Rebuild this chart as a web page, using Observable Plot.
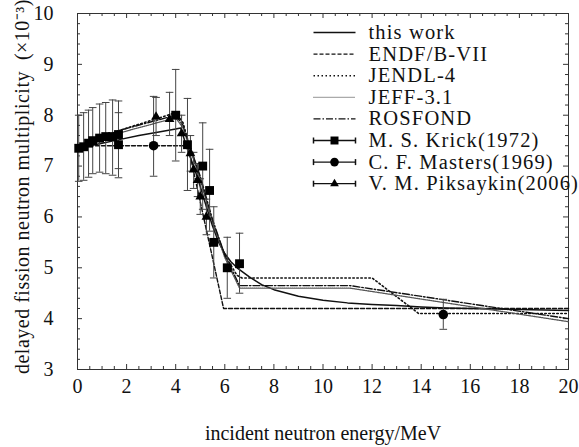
<!DOCTYPE html>
<html><head><meta charset="utf-8">
<script src="https://cdn.jsdelivr.net/npm/d3@7"></script>
<script src="https://cdn.jsdelivr.net/npm/@observablehq/plot@0.6"></script>
<style>body{margin:0;background:#fff}</style>
</head><body><div id="chart"></div>
<script>
// ---- data ----
const workE = [0, 0.5, 1, 1.7, 2.5, 3.2, 4.0, 4.2, 4.5, 4.8, 5.0, 5.25, 5.5, 5.75, 6.0, 6.25, 6.5, 7.0, 7.5, 8, 9, 10, 11, 12, 13, 14, 15, 16, 18, 20];
const workV = [7.35, 7.4, 7.45, 7.52, 7.6, 7.66, 7.73, 7.75, 7.3, 6.9, 6.6, 6.2, 5.82, 5.5, 5.28, 5.12, 5.0, 4.82, 4.67, 4.57, 4.44, 4.36, 4.31, 4.28, 4.26, 4.23, 4.21, 4.2, 4.18, 4.16];
const endfE = [0, 4.5, 5.95, 20];
const endfV = [7.4, 7.4, 4.2, 4.2];
const jendlE = [0, 1.7, 4.0, 4.3, 4.5, 5.0, 5.5, 6.0, 6.5, 6.7, 12.0, 13.9, 20];
const jendlV = [7.35, 7.7, 8.05, 7.85, 7.5, 6.75, 5.9, 5.25, 4.85, 4.8, 4.8, 4.1, 4.1];
const jeffE = [0, 1.7, 4.0, 4.3, 4.5, 5.0, 5.5, 6.0, 6.6, 11.1, 20];
const jeffV = [7.35, 7.65, 7.95, 7.75, 7.45, 6.75, 5.9, 5.2, 4.6, 4.6, 3.94];
const rosE = [0, 1.7, 4.0, 4.3, 4.5, 5.0, 5.5, 6.0, 6.6, 11.1, 20];
const rosV = [7.35, 7.7, 8.0, 7.8, 7.5, 6.8, 5.95, 5.25, 4.65, 4.65, 4.0];

const krickE = [0.05, 0.25, 0.45, 0.62, 0.9, 1.15, 1.43, 1.67, 1.67, 4.0, 4.48, 5.1, 5.38, 5.55, 6.1, 6.6];
const krickV = [7.35, 7.38, 7.45, 7.5, 7.55, 7.58, 7.58, 7.62, 7.42, 8.0, 7.42, 7.0, 6.52, 5.5, 5.0, 5.08];
const krickLo = [6.7, 6.72, 6.78, 6.85, 6.88, 6.85, 6.82, 6.95, 6.77, 7.1, 6.52, 6.15, 5.72, 4.8, 4.4, 4.5];
const krickHi = [8.0, 8.05, 8.1, 8.15, 8.22, 8.25, 8.3, 8.28, 8.05, 8.9, 8.33, 7.85, 7.33, 6.2, 5.6, 5.68];

const mastersE = [3.1, 14.9];
const mastersV = [7.4, 4.08];
const mastersLo = [6.8, 3.79];
const mastersHi = [8.37, 4.38];

const pikE = [3.2, 3.75, 4.24, 4.6, 4.73, 4.89, 5.0, 5.25];
const pikV = [7.97, 7.92, 7.64, 7.25, 6.93, 6.72, 6.4, 6.0];
const pikLo = [7.6, 7.6, 7.27, 6.9, 6.56, 6.4, 6.05, 5.65];
const pikHi = [8.35, 8.45, 8.0, 7.6, 7.27, 7.05, 6.75, 6.35];

const xMajor = [0, 2, 4, 6, 8, 10, 12, 14, 16, 18, 20];
const yMajor = [3, 4, 5, 6, 7, 8, 9, 10];
const xLabel = "incident neutron energy/MeV";
const yLabel = "delayed fission neutron multiplicity  (×10⁻³)";

const lineNames = ["this work", "ENDF/B-VII", "JENDL-4", "JEFF-3.1", "ROSFOND"];
const pointNames = ["M. S. Krick(1972)", "C. F. Masters(1969)", "V. M. Piksaykin(2006)"];

// ---- layout / styles ----
const W = 579, H = 447, ML = 77, MR = 11, MT = 13, MB = 78;
const X0 = 0, X1 = 20, Y0 = 3, Y1 = 10;
const FONT = "'Liberation Serif', 'Times New Roman', serif";
const lineStyles = [
  {dash: null, width: 1.5, color: "#111"},
  {dash: "4,2", width: 1.4, color: "#111"},
  {dash: "1.5,2.5", width: 1.6, color: "#111"},
  {dash: "1,1", width: 1.3, color: "#555"},
  {dash: "7,2,1.5,2", width: 1.4, color: "#111"}
];
const pointSymbols = ["square", "circle", "triangle"];
const pointR = [5, 4.8, 3.6];

const zip = (E, V, Lo, Hi) => E.map((e, i) => ({x: e, y: V[i], lo: Lo ? Lo[i] : null, hi: Hi ? Hi[i] : null}));
const lineData = [zip(workE, workV), zip(endfE, endfV), zip(jendlE, jendlV), zip(jeffE, jeffV), zip(rosE, rosV)];
const pointData = [zip(krickE, krickV, krickLo, krickHi), zip(mastersE, mastersV, mastersLo, mastersHi), zip(pikE, pikV, pikLo, pikHi)];

const xMinor = d3.range(0, 20.01, 0.5).filter(v => Math.abs(v / 2 - Math.round(v / 2)) > 1e-6);
const yMinor = d3.range(3, 10.001, 0.2).map(v => +v.toFixed(2)).filter(v => Math.abs(v - Math.round(v)) > 1e-6);

const pxX = p => X0 + (p - ML) / (W - ML - MR) * (X1 - X0);
const pxY = p => Y1 - (p - MT) / (H - MT - MB) * (Y1 - Y0);

const capSymbol = {draw(ctx, size) { const r = Math.sqrt(size / Math.PI); ctx.moveTo(-r, 0); ctx.lineTo(r, 0); }};
const vcapSymbol = {draw(ctx, size) { const r = Math.sqrt(size / Math.PI); ctx.moveTo(0, -r); ctx.lineTo(0, r); }};

const innerH = H - MT - MB, innerW = W - ML - MR;
const marks = [];
const tickMarks = (vals, len) => [
  Plot.ruleX(vals, {x: d => d, insetTop: innerH - len, stroke: "#333"}),
  Plot.ruleX(vals, {x: d => d, insetBottom: innerH - len, stroke: "#333"}),
];
const tickMarksY = (vals, len) => [
  Plot.ruleY(vals, {y: d => d, insetRight: innerW - len, stroke: "#333"}),
  Plot.ruleY(vals, {y: d => d, insetLeft: innerW - len, stroke: "#333"}),
];
marks.push(...tickMarks(xMajor, 5), ...tickMarks(xMinor, 3), ...tickMarksY(yMajor, 5), ...tickMarksY(yMinor, 3));
marks.push(Plot.frame({stroke: "#333", strokeWidth: 1}));
marks.push(Plot.axisX(xMajor, {tickSize: 0, tickPadding: 9, fontSize: 20, label: null, tickFormat: d => String(d)}));
marks.push(Plot.axisY(yMajor, {tickSize: 0, tickPadding: 24, fontSize: 20, label: null, tickFormat: d => String(d)}));
marks.push(Plot.text([xLabel], {frameAnchor: "bottom", text: d => d, dy: 64, fontSize: 20, lineAnchor: "middle", textAnchor: "middle"}));
marks.push(Plot.text([yLabel], {frameAnchor: "left", text: d => d, rotate: -90, dx: -55, dy: -5, fontSize: 20, lineAnchor: "middle", textAnchor: "middle", ariaDescription: "ylabel"}));

lineData.forEach((d, i) => {
  const s = lineStyles[i];
  marks.push(Plot.line(d, {x: "x", y: "y", stroke: s.color, strokeWidth: s.width, strokeDasharray: s.dash}));
});
pointData.forEach((d, i) => {
  marks.push(Plot.ruleX(d, {x: "x", y1: "lo", y2: "hi", stroke: "#444", strokeWidth: 1}));
  marks.push(Plot.dot(d, {x: "x", y: "lo", symbol: capSymbol, r: 3.8, stroke: "#444", strokeWidth: 1}));
  marks.push(Plot.dot(d, {x: "x", y: "hi", symbol: capSymbol, r: 3.8, stroke: "#444", strokeWidth: 1}));
});
pointData.forEach((d, i) => {
  marks.push(Plot.dot(d, {x: "x", y: "y", symbol: pointSymbols[i], r: pointR[i], fill: "#000", stroke: "none"}));
});

// legend
const legX1 = pxX(313), legX2 = pxX(355), legXm = pxX(334), legXt = pxX(368);
const rowY = i => pxY(32 + i * 21.6);
lineNames.forEach((n, i) => {
  const s = lineStyles[i];
  marks.push(Plot.link([n], {x1: legX1, x2: legX2, y1: rowY(i), y2: rowY(i), stroke: s.color, strokeWidth: s.width, strokeDasharray: s.dash}));
  marks.push(Plot.text([n], {x: legXt, y: rowY(i), text: d => d, textAnchor: "start", fontSize: 20.5, lineAnchor: "middle", ariaDescription: "legend"}));
});
pointNames.forEach((n, j) => {
  const i = j + lineNames.length;
  marks.push(Plot.link([n], {x1: legX1, x2: legX2, y1: rowY(i), y2: rowY(i), stroke: "#111", strokeWidth: 1.3}));
  marks.push(Plot.dot([legX1, legX2], {x: d => d, y: rowY(i), symbol: vcapSymbol, r: 3, stroke: "#111"}));
  marks.push(Plot.dot([n], {x: legXm, y: rowY(i), symbol: pointSymbols[j], r: pointR[j] * 0.9, fill: "#000"}));
  marks.push(Plot.text([n], {x: legXt, y: rowY(i), text: d => d, textAnchor: "start", fontSize: 20.5, lineAnchor: "middle", ariaDescription: "legend"}));
});

const chart = Plot.plot({
  width: W, height: H,
  marginLeft: ML, marginRight: MR, marginTop: MT, marginBottom: MB,
  x: {domain: [X0, X1], axis: null},
  y: {domain: [Y0, Y1], axis: null},
  style: {fontFamily: FONT, fontSize: "20px", background: "#fff", color: "#111"},
  marks
});
d3.select(chart).selectAll('[aria-description="legend"] text').style("letter-spacing", "1.15px");
d3.select(chart).selectAll('[aria-description="ylabel"] text').style("letter-spacing", "0.5px");
document.getElementById("chart").appendChild(chart);
</script>
</body></html>
